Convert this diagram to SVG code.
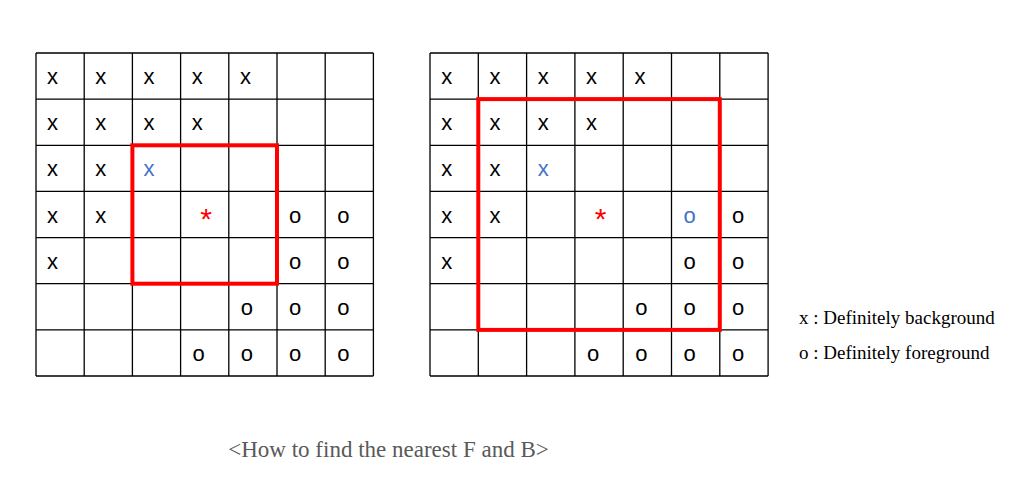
<svg xmlns="http://www.w3.org/2000/svg" width="1035" height="494" viewBox="0 0 1035 494">
<style>
.grid{fill:none;stroke:#000;stroke-width:1.3}
.win{fill:none;stroke:#ff0000;stroke-width:4}
.m{font-family:"Liberation Sans",Arial,sans-serif;font-size:22px;fill:#000;text-anchor:middle}
.b{fill:#4472c4}
.ast{font-family:"Liberation Sans",Arial,sans-serif;font-size:30px;fill:#ff0000;text-anchor:middle}
.leg{font-family:"Liberation Serif","Times New Roman",serif;font-size:19px;fill:#000}
.cap{font-family:"Liberation Serif","Times New Roman",serif;font-size:23px;fill:#595959;text-anchor:middle}
</style>
<rect width="1035" height="494" fill="#fff"/>
<g id="grid1">
<path class="grid" d="M36 53V376M84.2 53V376M132.4 53V376M180.6 53V376M228.8 53V376M277 53V376M325.2 53V376M373.4 53V376M36 53H373.4M36 99.1H373.4M36 145.3H373.4M36 191.4H373.4M36 237.6H373.4M36 283.7H373.4M36 329.9H373.4M36 376H373.4"/>
<g id="grid1-marks">
<text class="m" x="52.6" y="84.1">x</text><text class="m" x="100.8" y="84.1">x</text><text class="m" x="149" y="84.1">x</text><text class="m" x="197.2" y="84.1">x</text><text class="m" x="245.4" y="84.1">x</text>
<text class="m" x="52.6" y="130.2">x</text><text class="m" x="100.8" y="130.2">x</text><text class="m" x="149" y="130.2">x</text><text class="m" x="197.2" y="130.2">x</text>
<text class="m" x="52.6" y="176.4">x</text><text class="m" x="100.8" y="176.4">x</text><text class="m b" x="149" y="176.4">x</text>
<text class="m" x="52.6" y="222.5">x</text><text class="m" x="100.8" y="222.5">x</text><text class="ast" x="206.2" y="228.5">*</text><text class="m" x="295.1" y="222.5">o</text><text class="m" x="343.3" y="222.5">o</text>
<text class="m" x="52.6" y="268.7">x</text><text class="m" x="295.1" y="268.7">o</text><text class="m" x="343.3" y="268.7">o</text>
<text class="m" x="246.9" y="314.8">o</text><text class="m" x="295.1" y="314.8">o</text><text class="m" x="343.3" y="314.8">o</text>
<text class="m" x="198.7" y="361">o</text><text class="m" x="246.9" y="361">o</text><text class="m" x="295.1" y="361">o</text><text class="m" x="343.3" y="361">o</text>
</g>
<rect id="window1" class="win" x="132.4" y="145.3" width="144.6" height="138.4"/>
</g>
<g id="grid2">
<path class="grid" d="M430 53V376M478.3 53V376M526.6 53V376M574.9 53V376M623.2 53V376M671.5 53V376M719.8 53V376M768.1 53V376M430 53H768.1M430 99.1H768.1M430 145.3H768.1M430 191.4H768.1M430 237.6H768.1M430 283.7H768.1M430 329.9H768.1M430 376H768.1"/>
<g id="grid2-marks">
<text class="m" x="446.7" y="84.1">x</text><text class="m" x="495" y="84.1">x</text><text class="m" x="543.3" y="84.1">x</text><text class="m" x="591.6" y="84.1">x</text><text class="m" x="639.9" y="84.1">x</text>
<text class="m" x="446.7" y="130.2">x</text><text class="m" x="495" y="130.2">x</text><text class="m" x="543.3" y="130.2">x</text><text class="m" x="591.6" y="130.2">x</text>
<text class="m" x="446.7" y="176.4">x</text><text class="m" x="495" y="176.4">x</text><text class="m b" x="543.3" y="176.4">x</text>
<text class="m" x="446.7" y="222.5">x</text><text class="m" x="495" y="222.5">x</text><text class="ast" x="600.5" y="228.5">*</text><text class="m b" x="689.7" y="222.5">o</text><text class="m" x="738" y="222.5">o</text>
<text class="m" x="446.7" y="268.7">x</text><text class="m" x="689.7" y="268.7">o</text><text class="m" x="738" y="268.7">o</text>
<text class="m" x="641.4" y="314.8">o</text><text class="m" x="689.7" y="314.8">o</text><text class="m" x="738" y="314.8">o</text>
<text class="m" x="593.1" y="361">o</text><text class="m" x="641.4" y="361">o</text><text class="m" x="689.7" y="361">o</text><text class="m" x="738" y="361">o</text>
</g>
<rect id="window2" class="win" x="478.3" y="99.1" width="241.5" height="230.8"/>
</g>
<g id="legend">
<text class="leg" x="799" y="324">x : Definitely background</text>
<text class="leg" x="799" y="359">o : Definitely foreground</text>
</g>
<text id="caption" class="cap" x="388.5" y="457">&lt;How to find the nearest F and B&gt;</text>
</svg>
